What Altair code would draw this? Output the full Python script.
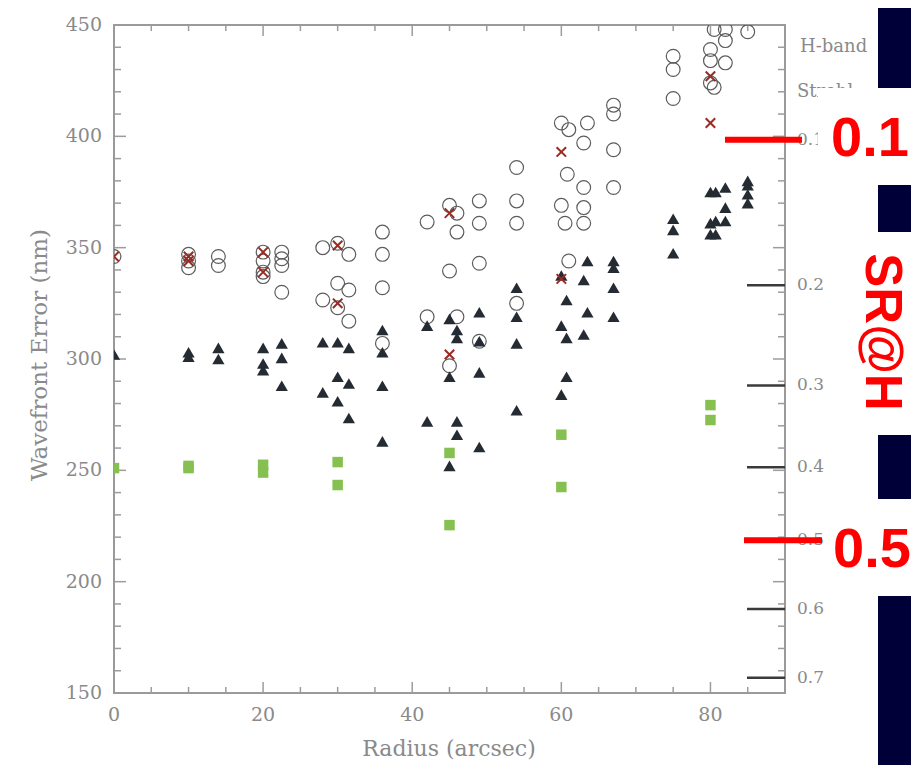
import altair as alt
import pandas as pd

# ---------------- data (radius in arcsec, wavefront error in nm) ----------------
# open circles
circle_r = [0,
            10, 10, 10,
            14, 14,
            20, 20, 20, 20,
            22.5, 22.5, 22.5, 22.5,
            28, 28,
            30, 30, 30,
            31.5, 31.5, 31.5,
            36, 36, 36, 36,
            42, 42,
            45, 45, 45,
            46, 46, 46,
            49, 49, 49, 49,
            54, 54, 54, 54,
            60, 61, 60.8, 60, 60.5, 61,
            63.5, 63, 63, 63, 63,
            67, 67, 67, 67,
            75, 75, 75,
            80, 80, 80, 80.5, 80.5,
            82, 82, 82,
            85]
circle_v = [346,
            347, 344, 341,
            346, 342,
            348, 344, 339, 337,
            348, 345, 342, 330,
            350, 326.5,
            352, 334, 323,
            347, 331, 317,
            357, 347, 332, 307,
            361.5, 319,
            369, 339.5, 297,
            365.5, 357, 319,
            371, 361, 343, 308,
            386, 371, 361, 325,
            406, 403, 383, 369, 361, 344,
            406, 397, 377, 368, 361,
            414, 410, 394, 377,
            436, 430, 417,
            439, 434, 424, 422, 448,
            448, 443, 433,
            447]

# red crosses
cross_r = [0, 10, 10, 20, 20, 30, 30, 45, 45, 60, 60, 80, 80]
cross_v = [346, 346, 344, 348, 339, 351, 325, 365.5, 302, 393, 336, 427, 406]

# filled triangles
tri_r = [0,
         10, 10,
         14, 14,
         20, 20, 20,
         22.5, 22.5, 22.5,
         28, 28,
         30, 30, 30,
         31.5, 31.5, 31.5,
         36, 36, 36, 36,
         42, 42,
         45, 45, 45,
         46, 46, 46, 46,
         49, 49, 49, 49,
         54, 54, 54, 54,
         60, 60, 60, 60.7, 60.7, 60.7,
         63.5, 63, 63.5, 63,
         67, 67, 67, 67,
         75, 75, 75,
         80, 80, 80, 80.7, 80.7, 80.7,
         82, 82, 82,
         85, 85, 85, 85]
tri_v = [302,
         303, 301,
         305, 300,
         305, 298, 295,
         307, 300.5, 288,
         307.5, 285,
         307.5, 292, 281,
         305, 289, 273.5,
         313, 303, 288, 263,
         315, 272,
         318, 292, 252,
         313, 309.5, 272, 266,
         321, 308, 294, 260.5,
         332, 319, 307, 277,
         337.5, 315, 284, 326.5, 309.5, 292,
         344, 335.5, 321, 311,
         344, 341, 332, 319,
         363, 358, 347.5,
         375, 361, 356, 375, 362, 356,
         377, 368, 362,
         380, 378, 374, 370]

# green squares
sq_r = [0, 10, 10, 20, 20, 30, 30, 45, 45, 60, 60, 80, 80]
sq_v = [251, 252, 251, 252.5, 249, 253.7, 243.4, 257.8, 225.4, 266, 242.5, 279.3, 272.6]

# axis ticks / labels
y_major = [150, 200, 250, 300, 350, 400, 450]
y_minor = [v for v in range(150, 451, 10) if v % 50 != 0]
x_major = [0, 20, 40, 60, 80]
x_minor = [v for v in range(5, 90, 5) if v % 20 != 0]
sr_ticks = [0.1, 0.2, 0.3, 0.4, 0.5, 0.6, 0.7]
sr_labels = ["0.1", "0.2", "0.3", "0.4", "0.5", "0.6", "0.7"]

# ---------------- layout ----------------
W, H = 671, 668
PADL, PADT, PADR, PADB = 106, 17, 126, 72
GRAY = "#8a8a8a"
TICK = "#9c9c9c"
SERIF = "DejaVu Serif"
RED = "#ff0000"
REDFONT = "Liberation Sans"
SR_EXPR = "sqrt(-log(datum.sr)) * 1650 / (2 * PI)"   # SR -> rms wavefront error (nm), H band

xs = alt.Scale(domain=[0, 90], nice=False, zero=False)
ys = alt.Scale(domain=[150, 450], nice=False, zero=False)
XF = alt.X("r:Q", scale=xs, axis=None)
YF = alt.Y("v:Q", scale=ys, axis=None)

one = pd.DataFrame({"a": [0]})


def box(x0, x1, y0, y1, color):
    return alt.Chart(one).mark_rect(color=color).encode(
        x=alt.value(x0), x2=alt.value(x1), y=alt.value(y0), y2=alt.value(y1))


def label(text, x, y, size, align="left", baseline="middle", angle=0,
          font=SERIF, color=GRAY, weight="normal"):
    return alt.Chart(one).mark_text(
        align=align, baseline=baseline, font=font, fontSize=size, color=color,
        fontWeight=weight, angle=angle, text=text
    ).encode(x=alt.value(x), y=alt.value(y))


# white slide panel
panel = box(-PADL - 1, 764, -PADT, H + PADB, "white")

# data layers
circles = alt.Chart(pd.DataFrame({"r": circle_r, "v": circle_v})).mark_point(
    shape="circle", filled=False, size=190, color="#5c5c5c", strokeWidth=1.2,
    opacity=1, clip=True).encode(x=XF, y=YF)

triangles = alt.Chart(pd.DataFrame({"r": tri_r, "v": tri_v})).mark_point(
    shape="triangle-up", filled=True, size=150, color="#252b33", opacity=1, clip=True
).encode(x=XF, y=YF)

crosses = alt.Chart(pd.DataFrame({"r": cross_r, "v": cross_v})).mark_point(
    shape="M-1,-1L1,1M-1,1L1,-1", filled=False, size=90, color="#9a2a22",
    strokeWidth=2, opacity=1, clip=True
).encode(x=XF, y=YF)

squares = alt.Chart(pd.DataFrame({"r": sq_r, "v": sq_v})).mark_point(
    shape="square", filled=True, size=110, color="#86c050", opacity=1, clip=True
).encode(x=XF, y=YF)


# inward ticks
def yticks(vals, x0, x1):
    return alt.Chart(pd.DataFrame({"v": vals})).mark_rule(color=TICK, strokeWidth=1.5).encode(
        y=YF, x=alt.value(x0), x2=alt.value(x1))


def xticks(vals, y0, y1):
    return alt.Chart(pd.DataFrame({"r": vals})).mark_rule(color=TICK, strokeWidth=1.5).encode(
        x=XF, y=alt.value(y0), y2=alt.value(y1))


tick_layers = [
    yticks(y_major, 0, 12), yticks(y_minor, 0, 7),
    yticks(y_major, W - 12, W), yticks(y_minor, W - 7, W),
    xticks(x_major, H, H - 11), xticks(x_minor, H, H - 6),
    xticks(x_major, 0, 11), xticks(x_minor, 0, 6),
]

frame = alt.Chart(one).mark_rect(fillOpacity=0, stroke="#9a9a9a", strokeWidth=2).encode(
    x=alt.value(0), x2=alt.value(W), y=alt.value(0), y2=alt.value(H))

# tick labels and axis titles
ylab = alt.Chart(pd.DataFrame({"v": y_major})).mark_text(
    align="right", baseline="middle", font=SERIF, fontSize=19, color=GRAY
).encode(y=YF, x=alt.value(-12), text=alt.Text("v:Q", format="d"))
xlab = alt.Chart(pd.DataFrame({"r": x_major})).mark_text(
    align="center", baseline="top", font=SERIF, fontSize=19, color=GRAY
).encode(x=XF, y=alt.value(H + 13), text=alt.Text("r:Q", format="d"))
xtitle = label("Radius (arcsec)", 335, 731, 22, align="center", baseline="alphabetic")
ytitle = label("Wavefront Error (nm)", -67, 330, 23, align="center",
               baseline="alphabetic", angle=270)

# right-hand Strehl axis
sr_df = pd.DataFrame({"sr": sr_ticks, "label": sr_labels})
YN = alt.Y("nm:Q", scale=ys, axis=None)
sr_long = alt.Chart(sr_df).transform_calculate(nm=SR_EXPR).mark_rule(
    color="#3a3a3a", strokeWidth=2.5).encode(y=YN, x=alt.value(W - 38), x2=alt.value(W))
sr_text = alt.Chart(sr_df).transform_calculate(nm=SR_EXPR).mark_text(
    align="left", baseline="middle", font=SERIF, fontSize=17, color=GRAY).encode(
    y=YN, x=alt.value(W + 12), text="label:N")

hband = label("H-band", W + 15, 22, 18)
strehl = label("Strehl", W + 12, 67, 18)

# slide overlay boxes
wb1 = box(704, 820, 63, 160, "white")
wb2 = box(764, 820, 207, 410, "white")
wb3 = box(764, 820, 474, 571, "white")

red01 = alt.Chart(pd.DataFrame({"sr": [0.1]})).transform_calculate(nm=SR_EXPR).mark_rule(
    color=RED, strokeWidth=6).encode(y=YN, x=alt.value(611), x2=alt.value(688))
red05 = alt.Chart(pd.DataFrame({"sr": [0.5]})).transform_calculate(nm=SR_EXPR).mark_rule(
    color=RED, strokeWidth=6).encode(y=YN, x=alt.value(630), x2=alt.value(708))

txt01 = label("0.1", 756, 131, 56, align="center", baseline="alphabetic",
              font=REDFONT, color=RED, weight="bold")
txt05 = label("0.5", 758, 542, 56, align="center", baseline="alphabetic",
              font=REDFONT, color=RED, weight="bold")
txtsr = label("SR@H", 752, 307, 51, align="center", baseline="alphabetic",
              angle=90, font=REDFONT, color=RED, weight="bold")

chart = alt.layer(
    panel, *tick_layers, frame, circles, triangles, crosses, squares,
    ylab, xlab, xtitle, ytitle,
    sr_long, sr_text, hband, strehl, wb1, wb2, wb3,
    red01, red05, txt01, txt05, txtsr
).properties(
    width=W, height=H,
    padding={"left": PADL, "top": PADT, "right": PADR, "bottom": PADB},
    autosize=alt.AutoSizeParams(type="none"),
    background="#000038",
).configure_view(strokeWidth=0)

chart.save("out.html", embed_options={"renderer": "svg", "actions": False})
